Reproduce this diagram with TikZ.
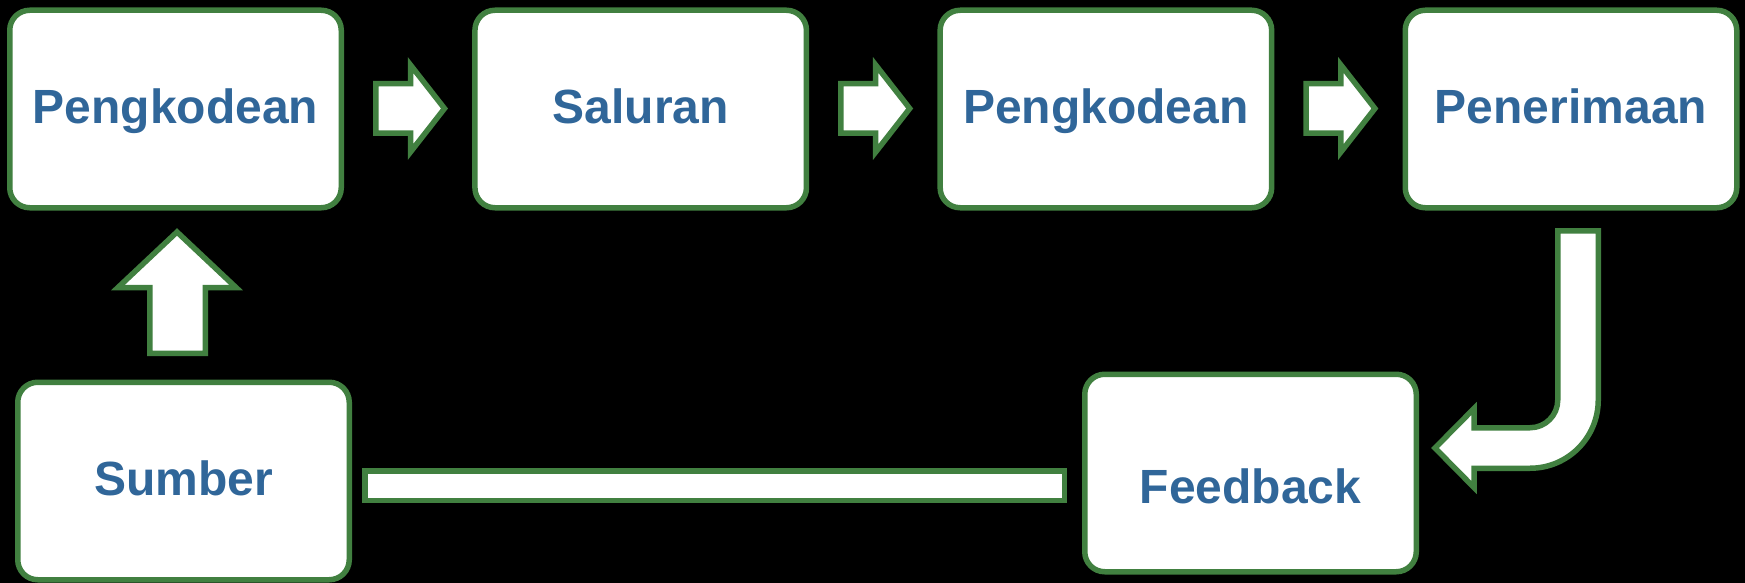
\documentclass[tikz,border=0pt]{standalone}
\usepackage{fontspec}
\setmainfont{Liberation Sans}
\definecolor{boxgreen}{RGB}{65,128,64}
\definecolor{textblue}{RGB}{48,102,153}

\begin{document}
\begin{tikzpicture}[x=0.5pt, y=-0.5pt,
  box/.style={draw=boxgreen, line width=2.75pt, fill=white, rounded corners=10pt,
    minimum width=165.75pt, minimum height=98.75pt, inner sep=0pt, outer sep=0pt,
    text=textblue, font=\fontsize{24}{28}\selectfont\bfseries,
    text height=17.2pt, text depth=3pt},
  blockarrow/.style={draw=boxgreen, line width=2.75pt, fill=white, line join=miter}]
\fill[black] (0,0) rectangle (1745,583);
\useasboundingbox (0,0) rectangle (1745,583);

\node[box] (enc1) at (175.5,109) {Pengkodean};
\node[box] (chan) at (640.7,109) {Saluran};
\node[box] (enc2) at (1105.9,109) {Pengkodean};
\node[box] (recv) at (1571,109) {Penerimaan};
\node[box] (src) at (183.5,481) {Sumber};
\node[box, text height=33pt] (fb) at (1250.5,473) {Feedback};

% arrows along the top row
\foreach \dx in {0,465.2,930.4}
\draw[blockarrow, shift={(\dx,0)}] (375.75,83.75) -- (410.5,83.75) -- (410.5,65) -- (444.5,108.5)
  -- (410.5,152) -- (410.5,133.25) -- (375.75,133.25) -- cycle;

% up arrow
\draw[blockarrow] (149.75,353.25) -- (149.75,287.5) -- (118,287.5) -- (177,232)
  -- (236,287.5) -- (205.25,287.5) -- (205.25,353.25) -- cycle;

% bar
\draw[blockarrow] (364.75,470.75) rectangle (1064.25,500.25);

% bent arrow
\draw[blockarrow] (1557.75,230.75) -- (1598.25,230.75) -- (1598.25,400)
  arc[start angle=0, end angle=90, radius=68.25] -- (1474,468.25) -- (1474,487.5)
  -- (1435,448) -- (1474,408.5) -- (1474,427.75) -- (1530,427.75)
  arc[start angle=90, end angle=0, radius=27.75] -- cycle;
\end{tikzpicture}
\end{document}
